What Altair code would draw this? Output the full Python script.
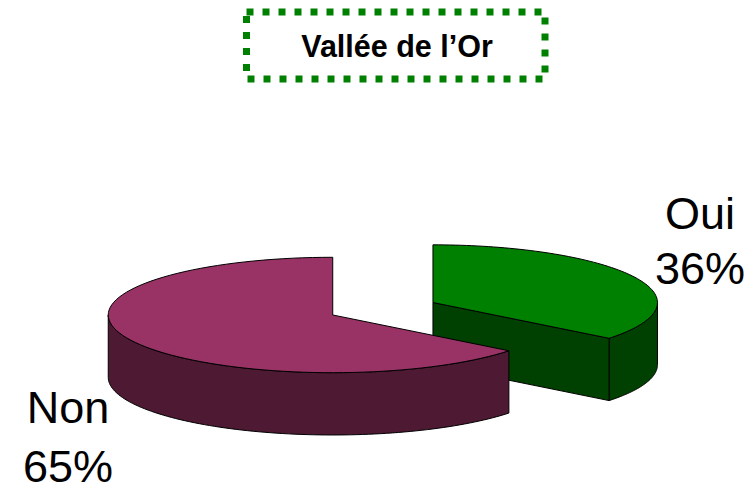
import math
import altair as alt
import pandas as pd

# ---- data ----
title = "Vallée de l\u2019Or"
labels = ["Oui", "Non"]
values = [36, 65]
top_colors = ["#008000", "#993366"]
side_colors = ["#004000", "#4d1933"]

# ---- layout (chart pixel coordinates, page minus 8px margin) ----
W, H = 738, 475
CX, CY = 374.85, 300.75      # pie centre
RX, RY = 224.5, 57.7         # ellipse radii of the top face
DEPTH = 62.3                 # thickness of the pie
EXPLODE = 0.248              # radial explosion, fraction of radius
N = 90                       # arc resolution

df = pd.DataFrame({"label": labels, "value": values})

xs = alt.X("px:Q", scale=alt.Scale(domain=[0, W], nice=False, zero=False), axis=None)
ys = alt.Y("py:Q", scale=alt.Scale(domain=[0, H], nice=False, zero=False, reverse=True), axis=None)

base = (
    alt.Chart(df)
    .transform_joinaggregate(total="sum(value)")
    .transform_window(cum="sum(value)", frame=[None, 0])
    .transform_calculate(
        a0="2*PI*(datum.cum - datum.value)/datum.total",
        a1="2*PI*datum.cum/datum.total",
    )
    .transform_calculate(am="(datum.a0 + datum.a1)/2")
    .transform_calculate(
        ox=f"{CX} + {EXPLODE * RX}*sin(datum.am)",
        oy=f"{CY} - {EXPLODE * RY}*cos(datum.am)",
    )
)


def top_face(lab, color):
    return (
        base.transform_filter(alt.datum.label == lab)
        .transform_calculate(k=f"sequence(0, {N + 3})")
        .transform_flatten(["k"])
        .transform_calculate(
            rim=f"datum.k >= 1 && datum.k <= {N + 1}",
            ang=f"datum.a0 + (datum.a1 - datum.a0)*clamp(datum.k - 1, 0, {N})/{N}",
        )
        .transform_calculate(
            px=f"datum.rim ? datum.ox + {RX}*sin(datum.ang) : datum.ox",
            py=f"datum.rim ? datum.oy - {RY}*cos(datum.ang) : datum.oy",
        )
        .mark_line(fill=color, stroke="black", strokeWidth=1, strokeJoin="round")
        .encode(x=xs, y=ys, order="k:Q", detail="label:N")
    )


def rim_side(lab, color):
    return (
        base.transform_filter(alt.datum.label == lab)
        .transform_calculate(
            b0="max(datum.a0, PI/2)",
            b1="min(datum.a1, 3*PI/2)",
        )
        .transform_filter("datum.b1 > datum.b0")
        .transform_calculate(k=f"sequence(0, {2 * N + 3})")
        .transform_flatten(["k"])
        .transform_calculate(
            bottom=f"datum.k > {N} && datum.k <= {2 * N + 1}",
            ang=(
                f"datum.k <= {N} ? datum.b0 + (datum.b1 - datum.b0)*datum.k/{N}"
                f" : datum.b1 - (datum.b1 - datum.b0)*min(datum.k - {N + 1}, {N})/{N}"
            ),
        )
        .transform_calculate(
            px=f"datum.ox + {RX}*sin(datum.ang)",
            py=f"datum.oy - {RY}*cos(datum.ang) + (datum.bottom ? {DEPTH} : 0)",
        )
        .mark_line(fill=color, stroke="black", strokeWidth=1, strokeJoin="round")
        .encode(x=xs, y=ys, order="k:Q", detail="label:N")
    )


def cut_face(lab, color):
    return (
        base.transform_filter(alt.datum.label == lab)
        .transform_calculate(
            fa="sin(datum.a1) > 1e-6 ? datum.a1 : (sin(datum.a0) < -1e-6 ? datum.a0 : -1)"
        )
        .transform_filter("datum.fa >= 0")
        .transform_calculate(k="sequence(0, 5)")
        .transform_flatten(["k"])
        .transform_calculate(
            edge="datum.k == 1 || datum.k == 2",
            low="datum.k == 2 || datum.k == 3",
        )
        .transform_calculate(
            px=f"datum.ox + (datum.edge ? {RX}*sin(datum.fa) : 0)",
            py=f"datum.oy + (datum.edge ? -{RY}*cos(datum.fa) : 0) + (datum.low ? {DEPTH} : 0)",
        )
        .mark_line(fill=color, stroke="black", strokeWidth=1, strokeJoin="round")
        .encode(x=xs, y=ys, order="k:Q", detail="label:N")
    )


# painter's order: slices further back drawn first
total = sum(values)
mids = []
acc = 0
for v in values:
    mids.append(2 * math.pi * (acc + v / 2) / total)
    acc += v
order = sorted(range(len(labels)), key=lambda i: -math.cos(mids[i]))

layers = []
for i in order:
    layers.append(rim_side(labels[i], side_colors[i]))
    layers.append(cut_face(labels[i], side_colors[i]))
    layers.append(top_face(labels[i], top_colors[i]))

# title box
tdf = pd.DataFrame({"t": [title]})
box = alt.Chart(tdf).mark_rect(
    filled=False, stroke="#008000", strokeWidth=7, strokeDash=[7, 9]
).encode(
    x=alt.value(246.5 - 8), x2=alt.value(545 - 8),
    y=alt.value(12 - 8), y2=alt.value(79 - 8),
)
ttext = alt.Chart(tdf).mark_text(
    font="Liberation Sans", fontWeight="bold", fontSize=30.5,
    align="center", baseline="alphabetic", color="black",
).encode(x=alt.value(397 - 8), y=alt.value(56.5 - 8), text="t:N")
layers += [box, ttext]

# slice labels (name above, percentage below)
label_pos = {"Oui": (700 - 8, 228.5 - 8, 284 - 8), "Non": (68 - 8, 423 - 8, 481.5 - 8)}
for lab in labels:
    lx, ly1, ly2 = label_pos[lab]
    lb = alt.Chart(df).transform_filter(alt.datum.label == lab).transform_calculate(
        pct="datum.value + '%'"
    )
    txt = dict(font="Liberation Sans", fontSize=45, align="center",
               baseline="alphabetic", color="black")
    layers.append(lb.mark_text(**txt).encode(x=alt.value(lx), y=alt.value(ly1), text="label:N"))
    layers.append(lb.mark_text(**txt).encode(x=alt.value(lx), y=alt.value(ly2), text="pct:N"))

chart = alt.layer(*layers).properties(
    width=W, height=H, autosize=alt.AutoSizeParams(type="none"), padding=0
).configure_view(stroke=None)

chart.save("out.html", embed_options={"renderer": "svg", "actions": False})
